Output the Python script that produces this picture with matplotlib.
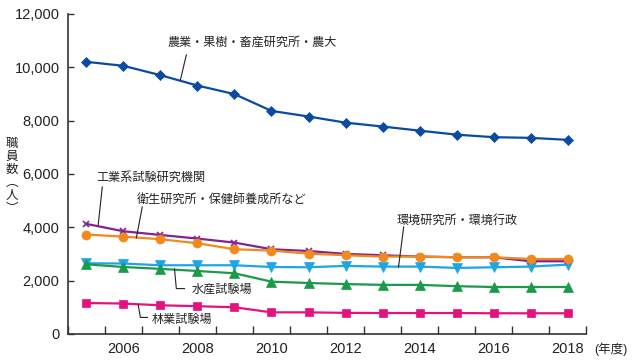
import numpy as np
import matplotlib
matplotlib.use("Agg")
import matplotlib.pyplot as plt

plt.rcParams['font.family'] = ['Liberation Sans', 'Noto Sans CJK JP']

years = list(range(2005, 2019))

# 職員数（人）
nogyo   = [10200, 10050, 9700, 9310, 8990, 8360, 8150, 7920, 7775, 7620, 7470, 7375, 7350, 7275]
kogyo   = [4125, 3850, 3710, 3575, 3425, 3175, 3110, 3000, 2950, 2900, 2875, 2875, 2725, 2725]
eisei   = [3725, 3650, 3550, 3400, 3175, 3125, 3010, 2950, 2900, 2900, 2875, 2875, 2810, 2810]
kankyo  = [2650, 2640, 2575, 2575, 2575, 2510, 2500, 2550, 2525, 2525, 2475, 2500, 2525, 2600]
suisan  = [2610, 2510, 2440, 2360, 2275, 1960, 1910, 1870, 1840, 1840, 1790, 1760, 1760, 1760]
ringyo  = [1160, 1140, 1075, 1040, 1000, 810, 810, 790, 785, 785, 785, 775, 775, 775]

xticklabels = ['2006', '2008', '2010', '2012', '2014', '2016', '2018']
yticks = [0, 2000, 4000, 6000, 8000, 10000, 12000]

fig = plt.figure(figsize=(6.4, 3.63), dpi=100)
ax = fig.add_axes([0.106, 0.080, 0.810, 0.882])

series = [
    (kankyo, '#1ea5e6', 'v', 6.5),
    (suisan, '#1b9a4b', '^', 6.5),
    (ringyo, '#e5127d', 's', 5.5),
    (kogyo, '#84228f', 'x', 5),
    (eisei, '#f08a1d', 'o', 6.5),
    (nogyo, '#0b4aa2', 'D', 5.5),
]
for vals, col, mk, ms in series:
    ax.plot(years, vals, color=col, lw=1.6, marker=mk, ms=ms,
            markeredgewidth=1.2 if mk == 'x' else 0.5, clip_on=False)

ax.set_xlim(2004.5, 2018.5)
ax.set_ylim(0, 12000)
ax.set_yticks(yticks)
ax.set_yticklabels([f'{v:,}' for v in yticks], fontsize=10.5, color='#222222')
ax.set_xticks(np.arange(2004.5, 2019, 1.0))
ax.set_xticklabels([])
ax.set_xticks([2006, 2008, 2010, 2012, 2014, 2016, 2018], minor=True)
ax.set_xticklabels(xticklabels, minor=True, fontsize=10.5, color='#222222')
ax.tick_params(axis='x', which='major', direction='in', length=6, width=1, color='#333333')
ax.tick_params(axis='x', which='minor', length=0, pad=6)
ax.tick_params(axis='y', direction='in', length=4, width=1, color='#333333', pad=6)

for s in ['top', 'right']:
    ax.spines[s].set_visible(False)
for s in ['left', 'bottom']:
    ax.spines[s].set_color('#333333')
    ax.spines[s].set_linewidth(1.2)

ax.annotate('(年度)', xy=(2018.72, -0.047), xycoords=('data', 'axes fraction'),
            fontsize=9, va='center', ha='left', color='#222222',
            annotation_clip=False)
fig.text(0.019, 0.515, '職\n員\n数\n︵\n人\n︶', fontsize=9, ha='center', va='center',
         linespacing=1.0, color='#222222', family=['Noto Sans CJK JP'])

lk = dict(color='#222222', lw=0.8, clip_on=False)
tk = dict(fontsize=8.7, color='#222222', family=['Noto Sans CJK JP'])

# 農業・果樹・畜産研究所・農大
ax.plot([2007.7, 2007.54], [10460, 9520], **lk)
ax.text(2007.2, 10950, '農業・果樹・畜産研究所・農大', va='center', **tk)
# 工業系試験研究機関
ax.plot([2005.43, 2005.32], [5510, 4090], **lk)
ax.text(2005.27, 5850, '工業系試験研究機関', va='center', **tk)
# 衛生研究所・保健師養成所など
ax.plot([2006.51, 2006.35], [4760, 3600], **lk)
ax.text(2006.35, 5030, '衛生研究所・保健師養成所など', va='center', **tk)
# 環境研究所・環境行政
ax.plot([2013.57, 2013.43], [4010, 2510], **lk)
ax.text(2013.38, 4275, '環境研究所・環境行政', va='center', **tk)
# 水産試験場
ax.plot([2007.38, 2007.43, 2007.65], [2440, 1700, 1700], **lk)
ax.text(2007.84, 1680, '水産試験場', va='center', **tk)
# 林業試験場
ax.plot([2006.4, 2006.46, 2006.65], [1090, 620, 620], **lk)
ax.text(2006.76, 560, '林業試験場', va='center', **tk)

fig.savefig('out.png', dpi=100)
